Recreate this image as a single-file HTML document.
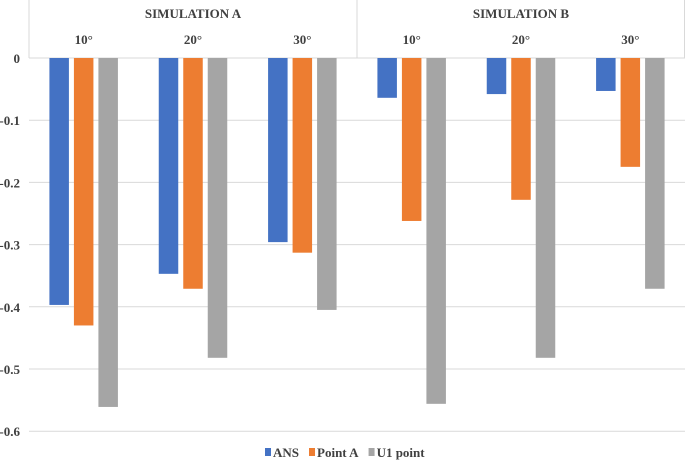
<!DOCTYPE html>
<html><head><meta charset="utf-8"><style>
body{margin:0;background:#fff}
svg text{font-family:"Liberation Serif",serif;font-weight:bold;fill:#404040;font-size:13px}
</style></head><body>
<svg id="chart" width="685" height="467">
<g id="grid"></g>
<g id="header"></g>
<g id="bars"></g>
<g id="yaxis"></g>
<g id="legend"></g>
</svg>
<script>
const groups = ["SIMULATION A","SIMULATION B"];
const angles = ["10°","20°","30°","10°","20°","30°"];
const seriesNames = ["ANS","Point A","U1 point"];
const ansValues = [-0.397,-0.347,-0.296,-0.064,-0.058,-0.053];
const pointAValues = [-0.43,-0.371,-0.313,-0.262,-0.228,-0.175];
const u1Values = [-0.561,-0.482,-0.405,-0.556,-0.482,-0.371];
const yTicks = [0,-0.1,-0.2,-0.3,-0.4,-0.5,-0.6];
const yTickLabels = ["0","-0.1","-0.2","-0.3","-0.4","-0.5","-0.6"];

const NS="http://www.w3.org/2000/svg";
const colors=["#4472C4","#ED7D31","#A5A5A5"];
const x0=29,x1=685,y0=58,pxPer=622;
const y=v=>y0-v*pxPer;
const catW=(x1-x0)/angles.length;
const cx=i=>x0+catW*(i+0.5);
function mk(tag,attrs,parent){const e=document.createElementNS(NS,tag);for(const k in attrs)e.setAttribute(k,attrs[k]);parent.appendChild(e);return e;}
const grid=document.getElementById('grid'),hdr=document.getElementById('header'),bars=document.getElementById('bars'),ya=document.getElementById('yaxis'),lg=document.getElementById('legend');
yTicks.forEach((t,i)=>{
  const l=mk('line',{x1:x0,x2:x1,y1:y(t),y2:y(t),stroke:'#d9d9d9','stroke-width':1},grid);
  
  
  const tx=mk('text',{x:20,y:y(t)+5,'text-anchor':'end'},ya);tx.textContent=yTickLabels[i];
  
  
});
const half=angles.length/groups.length;
[x0,x0+catW*half,x1-0.5].forEach(xx=>{mk('line',{x1:xx,x2:xx,y1:0,y2:y0,stroke:'#d9d9d9'},hdr);});
groups.forEach((g,gi)=>{
  const t=mk('text',{x:x0+catW*half*(gi+0.5),y:18,'text-anchor':'middle'},hdr);t.textContent=g;
  
  
});
angles.forEach((a,i)=>{
  const t=mk('text',{x:cx(i),y:44,'text-anchor':'middle'},hdr);t.textContent=a;
  
  
});
const series=[ansValues,pointAValues,u1Values];
const bw=19.5,step=24.5;
series.forEach((vals,s)=>{vals.forEach((v,i)=>{
  const bx=cx(i)+(s-1)*step-bw/2;
  const r=mk('rect',{x:bx,y:y0,width:bw,height:y(v)-y0,fill:colors[s]},bars);
  
  
});});
let lx=265;
seriesNames.forEach((n,s)=>{
  mk('rect',{x:lx,y:448,width:6,height:8,fill:colors[s]},lg);
  const t=mk('text',{x:lx+8,y:457},lg);t.textContent=n;
  
  
  lx+=8+t.getComputedTextLength()+10;
});
</script>
</body></html>
